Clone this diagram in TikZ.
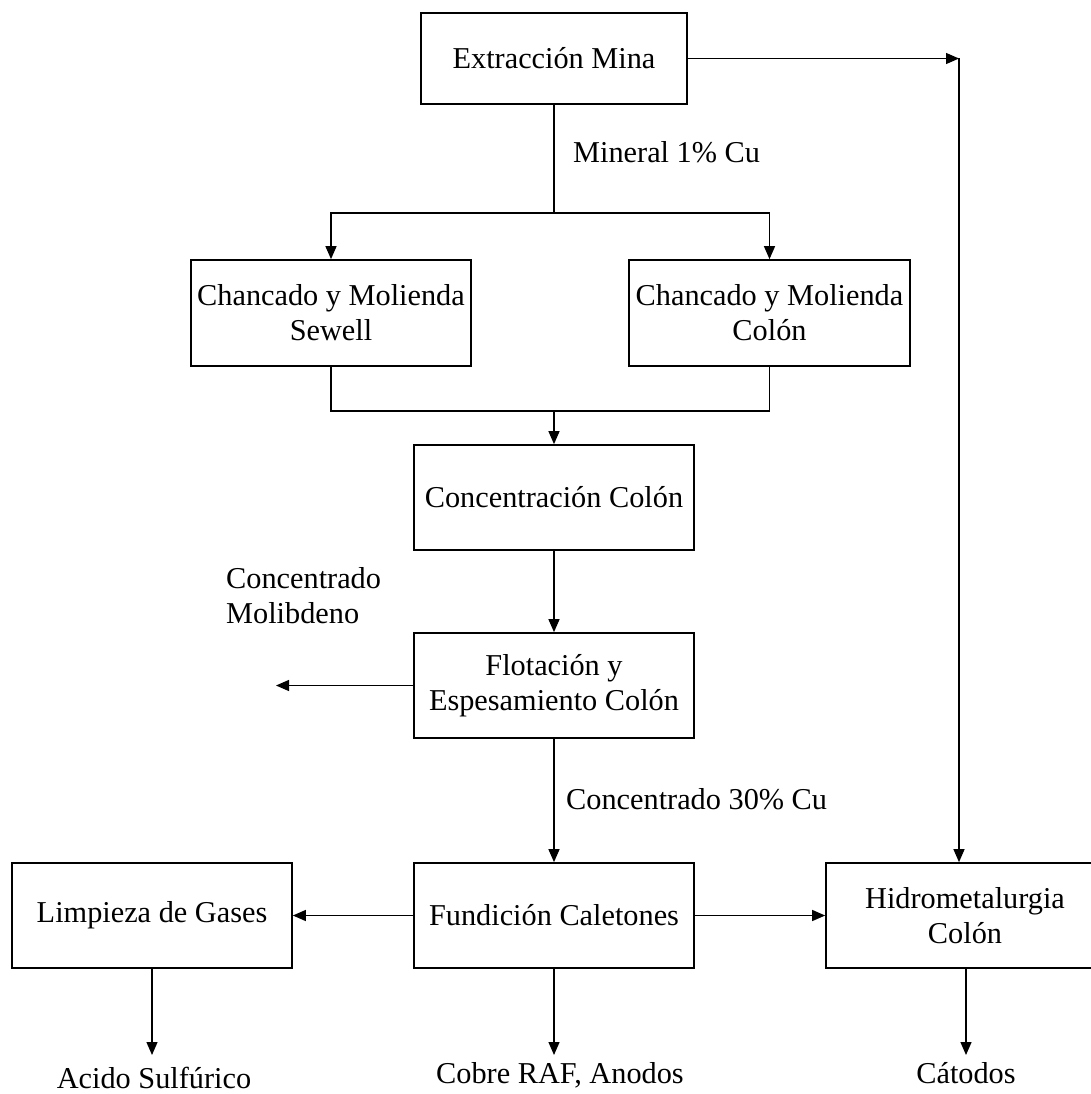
\documentclass[tikz,border=0pt]{standalone}
\usepackage{fontspec}
\setmainfont{Liberation Serif}
\usetikzlibrary{arrows.meta}
\begin{document}
\begin{tikzpicture}[x=1pt,y=-1pt,
  txt/.style={font=\fontsize{30.3}{35}\selectfont},
  box/.style={txt,draw,line width=1.7pt,inner sep=0pt,align=center,minimum width=280pt,minimum height=105pt},
  lbl/.style={txt,inner sep=0pt,anchor=base west,align=left},
  lblc/.style={txt,inner sep=0pt,anchor=base},
  ln/.style={line width=1.3pt},
  arr/.style={line width=1.3pt,-{Triangle[length=13pt,width=11pt]}}]
\useasboundingbox (0,0) rectangle (1091,1094);
\clip (0,0) rectangle (1091,1094);
% boxes
\node[box,minimum width=266pt,minimum height=91pt] (ext) at (554,58.5) {Extracción Mina};
\node[box,minimum height=106pt] (sew) at (331,313) {Chancado y Molienda\\Sewell};
\node[box,minimum width=281pt,minimum height=106pt] (col) at (769.5,313) {Chancado y Molienda\\Colón};
\node[box] (conc) at (554,497.5) {Concentración Colón};
\node[box] (flot) at (554,685.5) {Flotación y\\Espesamiento Colón};
\node[box] (fund) at (554,915.5) {Fundición Caletones};
\node[box] (limp) at (152,915.5) {Limpieza de Gases};
\node[box,minimum width=278pt] (hidro) at (965,915.5) {Hidrometalurgia\\Colón};
% labels
\node[lbl] (mineral) at (573,163) {Mineral 1\% Cu};
\node[lbl] (moly) at (226,623) {Concentrado\\Molibdeno};
\node[lbl] (c30) at (566,809) {Concentrado 30\% Cu};
\node[lblc] (acido) at (154,1088) {Acido Sulfúrico};
\node[lblc] (cobre) at (560,1083) {Cobre RAF, Anodos};
\node[lblc] (catodos) at (966,1083) {Cátodos};
% coordinates
\coordinate (j1) at (554,213);
\coordinate (j2) at (554,411);
\coordinate (tr) at (959,58.5);
\coordinate (molyend) at (276,685.5);
\coordinate (a1) at (152,1055);
\coordinate (a2) at (554,1055);
\coordinate (a3) at (966,1055);
% connectors
\draw[ln] (ext.south) -- (j1);
\draw[arr] (j1) -| (sew.north);
\draw[arr] (j1) -| (col.north);
\draw[ln] (sew.south) |- (j2) -| (col.south);
\draw[arr] (j2) -- (conc.north);
\draw[arr] (conc.south) -- (flot.north);
\draw[arr] (flot.west) -- (molyend);
\draw[arr] (flot.south) -- (fund.north);
\draw[arr] (fund.west) -- (limp.east);
\draw[arr] (fund.east) -- (hidro.west);
\draw[arr] (ext.east) -- (tr);
\draw[arr] (tr) -- (tr |- hidro.north);
\draw[arr] (limp.south) -- (a1);
\draw[arr] (fund.south) -- (a2);
\draw[arr] (hidro.south -| a3) -- (a3);
\end{tikzpicture}
\end{document}
